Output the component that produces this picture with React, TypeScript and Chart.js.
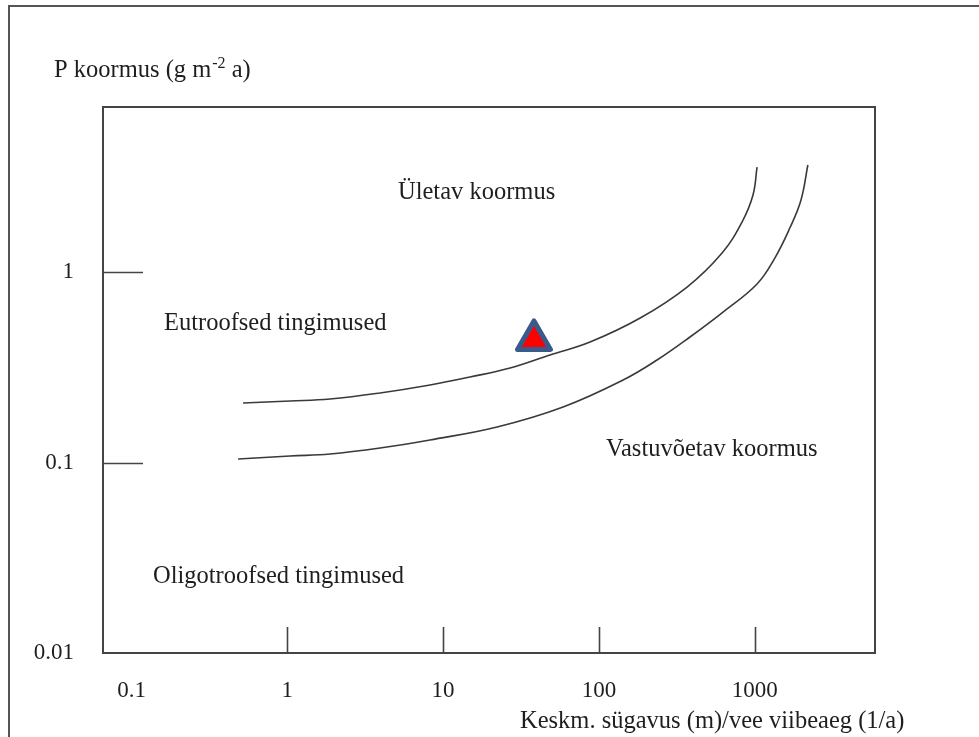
import React, { useEffect, useRef } from "react";
import { Chart, registerables } from "chart.js";
Chart.register(...registerables);

// Upper curve (limit of excessive loading)
const upperX = [0.52, 1.041, 1.88, 3.94, 8.24, 14.9, 26.9, 48.5, 87.7, 184, 368, 617, 829, 975, 1035];
const upperY = [0.2053, 0.2103, 0.2154, 0.2317, 0.2552, 0.2811, 0.3133, 0.3666, 0.429, 0.5735, 0.834, 1.258, 1.83, 2.536, 3.557];
// Lower curve (limit of permissible loading)
const lowerX = [0.483, 1.041, 1.88, 3.94, 8.24, 22.2, 58.9, 143, 236, 384, 626, 1035, 1346, 1680, 1982, 2193];
const lowerY = [0.1043, 0.1082, 0.1108, 0.1191, 0.1313, 0.1536, 0.1956, 0.271, 0.3451, 0.456, 0.6166, 0.865, 1.184, 1.702, 2.388, 3.645];
// Lake marker
const markerX = [38.3];
const markerY = [0.44];

const xTickValues = [0.1, 1, 10, 100, 1000];
const yTickValues = [0.01, 0.1, 1];
const xMarkValues = [1, 10, 100, 1000];
const yMarkValues = [0.1, 1];

const regionTexts = [
  "Ületav koormus",
  "Eutroofsed tingimused",
  "Vastuvõetav koormus",
  "Oligotroofsed tingimused",
];
const yTitleMain = "P koormus (g m";
const yTitleSup = "-2";
const yTitleEnd = " a)";
const xTitle = "Keskm. sügavus (m)/vee viibeaeg (1/a)";

const FONT = '"Liberation Serif", "Times New Roman", serif';
const TEXT = "#1e1e1e";
const LINE = "#3a3a3a";

const toPts = (xs: number[], ys: number[]) => xs.map((x, i) => ({ x, y: ys[i] }));

const decorPlugin = {
  id: "decor",
  beforeDatasetsDraw(chart: any) {
    const { ctx, chartArea: a, scales } = chart;
    const xs = scales.x;
    const ys = scales.y;
    ctx.save();
    // outer frame
    ctx.strokeStyle = "#555";
    ctx.lineWidth = 2;
    ctx.beginPath();
    ctx.moveTo(9, 737);
    ctx.lineTo(9, 6);
    ctx.lineTo(979, 6);
    ctx.stroke();
    // plot box
    ctx.strokeStyle = "#444";
    ctx.lineWidth = 2;
    ctx.strokeRect(a.left, a.top, a.right - a.left, a.bottom - a.top);
    // tick marks
    ctx.lineWidth = 1.6;
    ctx.beginPath();
    xMarkValues.forEach((v) => {
      const px = Math.round(xs.getPixelForValue(v)) + 0.5;
      ctx.moveTo(px, a.bottom);
      ctx.lineTo(px, a.bottom - 26);
    });
    yMarkValues.forEach((v) => {
      const py = Math.round(ys.getPixelForValue(v)) + 0.5;
      ctx.moveTo(a.left, py);
      ctx.lineTo(a.left + 40, py);
    });
    ctx.stroke();
    ctx.restore();
  },
  beforeDatasetDraw(chart: any) {
    chart.ctx.lineJoin = "round";
  },
  afterDatasetDraw(chart: any) {
    chart.ctx.lineJoin = "miter";
  },
  afterDraw(chart: any) {
    const { ctx } = chart;
    ctx.save();
    ctx.fillStyle = TEXT;
    ctx.textBaseline = "middle";
    ctx.textAlign = "left";
    const F = `24.5px ${FONT}`;
    ctx.font = F;
    const pos = [
      [398, 193],
      [164, 324],
      [606, 450],
      [153, 577],
    ];
    regionTexts.forEach((t, i) => ctx.fillText(t, pos[i][0], pos[i][1]));
    // y title with superscript
    ctx.textBaseline = "alphabetic";
    let x = 54;
    ctx.fillText(yTitleMain, x, 77);
    x += ctx.measureText(yTitleMain).width;
    ctx.font = `16px ${FONT}`;
    ctx.fillText(yTitleSup, x + 1, 68);
    x += ctx.measureText(yTitleSup).width + 1;
    ctx.font = F;
    ctx.fillText(yTitleEnd, x, 77);
    // x title
    ctx.fillText(xTitle, 520, 728);
    ctx.restore();
  },
};

export default function App() {
  const ref = useRef<HTMLCanvasElement>(null);
  useEffect(() => {
    if (!ref.current) return;
    const chart = new Chart(ref.current, {
      type: "scatter",
      data: {
        datasets: [
          {
            data: toPts(upperX, upperY),
            showLine: true,
            borderColor: LINE,
            borderWidth: 1.6,
            pointRadius: 0,
            tension: 0.4,
            fill: false,
          },
          {
            data: toPts(lowerX, lowerY),
            showLine: true,
            borderColor: LINE,
            borderWidth: 1.6,
            pointRadius: 0,
            tension: 0.4,
            fill: false,
          },
          {
            data: toPts(markerX, markerY),
            showLine: false,
            pointStyle: "triangle",
            pointRadius: 19,
            backgroundColor: "#ff0000",
            borderColor: "#3b5a8c",
            borderWidth: 5,
          },
        ],
      } as any,
      options: {
        responsive: false,
        animation: false,
        layout: { padding: { left: 0, right: 104, top: 107, bottom: 0 } },
        plugins: { legend: { display: false }, tooltip: { enabled: false } },
        scales: {
          x: {
            type: "logarithmic",
            min: 0.0656,
            max: 5916,
            grid: { display: false, drawTicks: false },
            border: { display: false },
            afterBuildTicks: (s: any) => {
              s.ticks = xTickValues.map((v) => ({ value: v }));
            },
            afterFit: (s: any) => {
              s.height = 84;
            },
            ticks: {
              autoSkip: false,
              maxRotation: 0,
              padding: 24,
              color: TEXT,
              font: { family: FONT, size: 23 },
              callback: (v: any) => String(v),
            },
          },
          y: {
            type: "logarithmic",
            min: 0.01,
            max: 7.35,
            grid: { display: false, drawTicks: false },
            border: { display: false },
            afterBuildTicks: (s: any) => {
              s.ticks = yTickValues.map((v) => ({ value: v }));
            },
            afterFit: (s: any) => {
              s.width = 103;
            },
            ticks: {
              autoSkip: false,
              padding: 29,
              color: TEXT,
              font: { family: FONT, size: 23 },
              callback: (v: any) => String(v),
            },
          },
        },
      } as any,
      plugins: [decorPlugin],
    });
    return () => chart.destroy();
  }, []);
  return (
    <div style={{ position: "absolute", left: 0, top: 0, width: 979, height: 737, background: "#fff" }}>
      <canvas ref={ref} width={979} height={737} style={{ display: "block" }} />
    </div>
  );
}
